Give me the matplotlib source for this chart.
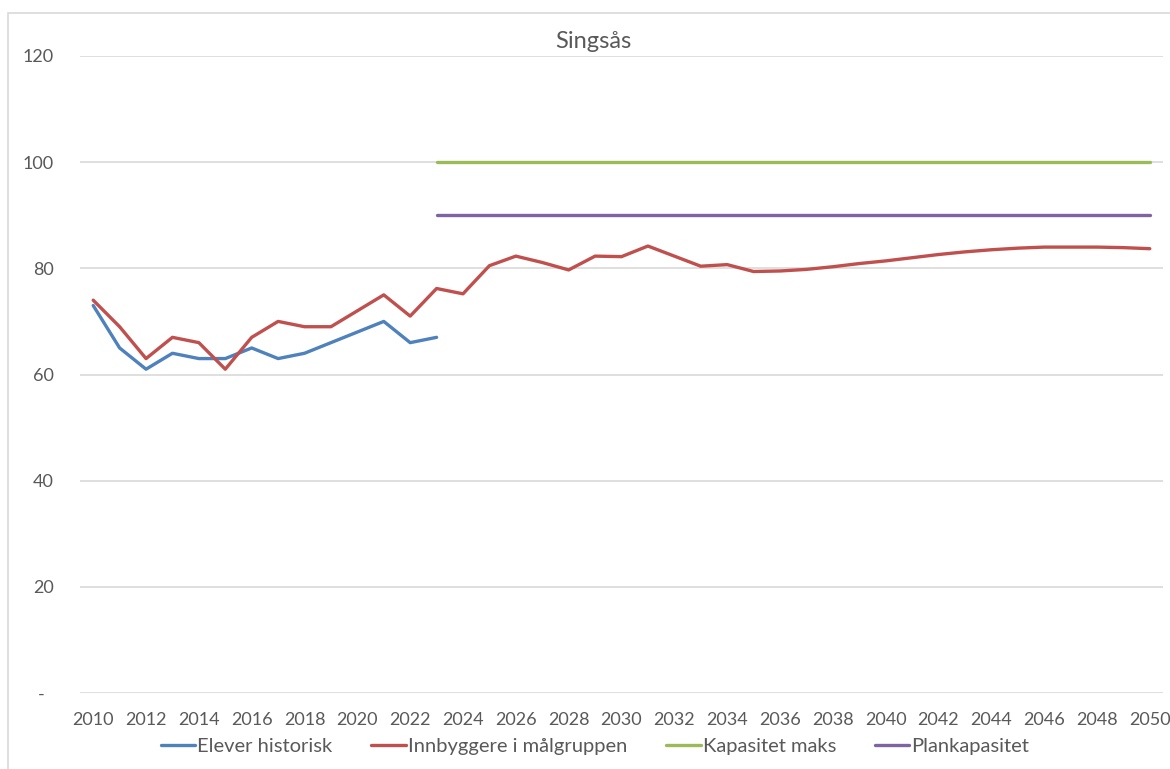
"""
Singsås: elever og innbyggere i målgruppen mot kapasitet
"""

import matplotlib
import matplotlib.pyplot as plt
from matplotlib.patches import Rectangle
matplotlib.use("AGG")

plt.rcParams['font.family'] = ['Lato', 'DejaVu Sans']

years = list(range(2010, 2051))

# Elever historisk (2010-2023)
elever = [73, 65, 61, 64, 63, 63, 65, 63, 64, 66, 68, 70, 66, 67]

# Innbyggere i målgruppen (2010-2050)
innbyggere = [74, 69, 63, 67, 66, 61, 67, 70, 69, 69, 72, 75, 71, 76.2,
              75.2, 80.5, 82.3, 81.1, 79.7, 82.3, 82.2, 84.2, 82.3, 80.4,
              80.7, 79.4, 79.5, 79.8, 80.3, 80.9, 81.4, 82.0, 82.6, 83.1,
              83.5, 83.8, 84.0, 84.0, 84.0, 83.9, 83.7]

# Kapasitet (2023-2050)
kap_years = list(range(2023, 2051))
kapasitet_maks = [100] * len(kap_years)
plankapasitet = [90] * len(kap_years)

fig = plt.figure(figsize=(11.7, 7.69), dpi=100)
ax = fig.add_axes([80 / 1170, 1 - 693 / 769, 1083 / 1170, 637 / 769])

# chart area border
fig.patches.append(Rectangle((8 / 1170, -0.1), 1.2, 1 - 13 / 769 + 0.1,
                             transform=fig.transFigure, fill=False,
                             edgecolor='#d9d9d9', linewidth=1.2))

idx = {y: i for i, y in enumerate(years)}
lw = 2.4
ax.plot([idx[y] for y in years[:len(elever)]], elever, color='#4f81bd',
        lw=lw, label='Elever historisk', solid_capstyle='round')
ax.plot([idx[y] for y in years], innbyggere, color='#c0504d',
        lw=lw, label='Innbyggere i målgruppen', solid_capstyle='round')
ax.plot([idx[y] for y in kap_years], kapasitet_maks, color='#9bbb59',
        lw=lw, label='Kapasitet maks', solid_capstyle='round')
ax.plot([idx[y] for y in kap_years], plankapasitet, color='#8064a2',
        lw=lw, label='Plankapasitet', solid_capstyle='round')

ax.set_xlim(-0.5, len(years) - 0.5)
ax.set_ylim(0, 120)
ax.set_yticks(range(0, 121, 20))
ax.set_yticklabels(['-  '] + [str(v) for v in range(20, 121, 20)])
ax.set_xticks(range(0, len(years), 2))
ax.set_xticklabels([str(y) for y in years[::2]])
ax.grid(axis='y', color='#d9d9d9', linewidth=1.2)
ax.set_axisbelow(True)
for s in ax.spines.values():
    s.set_visible(False)
ax.tick_params(length=0, labelsize=13, colors='#595959')
ax.tick_params(axis='y', pad=19)
ax.tick_params(axis='x', pad=14)

fig.text(593 / 1170, 1 - 42 / 769, 'Singsås', ha='center', va='center',
         fontsize=17, color='#595959')

fig.legend(loc='center', bbox_to_anchor=(595 / 1170, 1 - 746 / 769), ncol=4,
           frameon=False, fontsize=14.5, handlelength=1.7, handletextpad=0.1,
           columnspacing=1.95, labelcolor='#595959')

plt.savefig('out.png', dpi=100)
